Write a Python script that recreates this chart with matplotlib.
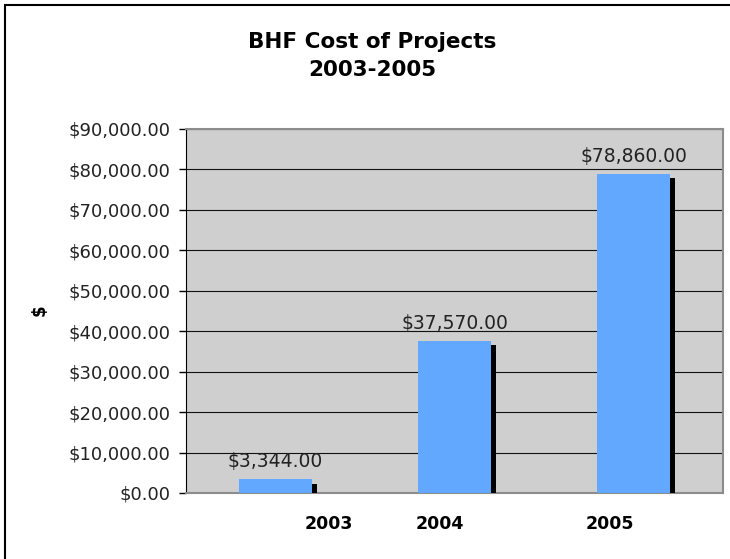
import numpy as np
import matplotlib
matplotlib.use("Agg")
import matplotlib.pyplot as plt
import matplotlib.patheffects as pe
from matplotlib.patches import Rectangle
from matplotlib.ticker import FuncFormatter, MultipleLocator

years = ["2003", "2004", "2005"]
costs = [3344.00, 37570.00, 78860.00]
# the x labels sit off-centre in the original chart
label_shift = [0.30, -0.08, -0.13]

bar_color = "#62A8FF"
plot_bg = "#CFCFCF"

fig = plt.figure(figsize=(7.30, 5.59), dpi=100)
ax = fig.add_axes([186 / 730, 66 / 559, 537 / 730, 364 / 559])
ax.set_facecolor(plot_bg)

x = np.arange(len(years))
bars = ax.bar(x, costs, width=0.41, color=bar_color, zorder=3,
              path_effects=[pe.SimplePatchShadow(offset=(3.5, -3), shadow_rgbFace="black", alpha=1.0),
                            pe.Normal()])

for xi, c in zip(x, costs):
    ax.annotate("${:,.2f}".format(c), (xi, c), xytext=(0, 6), textcoords="offset points",
                ha="center", va="bottom", fontsize=13.5, color="#222222")

ax.set_xlim(-0.5, 2.5)
ax.set_ylim(0, 90000)
ax.yaxis.set_major_locator(MultipleLocator(10000))
ax.yaxis.set_major_formatter(FuncFormatter(lambda v, p: "${:,.2f}".format(v)))
ax.grid(axis="y", color="#111111", linewidth=0.8, zorder=1)
ax.set_axisbelow(True)

ax.set_xticks(x + np.array(label_shift))
ax.set_xticklabels(years, fontsize=12.5, fontweight="bold")
ax.tick_params(axis="x", length=0, pad=16)
ax.tick_params(axis="y", length=5, width=1, labelsize=13, pad=6, colors="black", labelcolor="#222222")

ax.spines["left"].set_color("black")
for s in ["top", "right", "bottom"]:
    ax.spines[s].set_color("#8C8C8C")
    ax.spines[s].set_linewidth(1.5)

fig.text(40 / 730, 1 - 310 / 559, "$", rotation=90, ha="center", va="center",
         fontsize=12, fontweight="bold")
fig.text(372 / 730, 1 - 56 / 559, "BHF Cost of Projects\n2003-2005", ha="center", va="center",
         fontsize=15.5, fontweight="bold", linespacing=1.45)

fig.patches.append(Rectangle((5 / 730, -0.1), 1.2, 1.1 - 5 / 559, transform=fig.transFigure,
                             fill=False, edgecolor="black", linewidth=1.5))

fig.savefig("out.png", dpi=100)
